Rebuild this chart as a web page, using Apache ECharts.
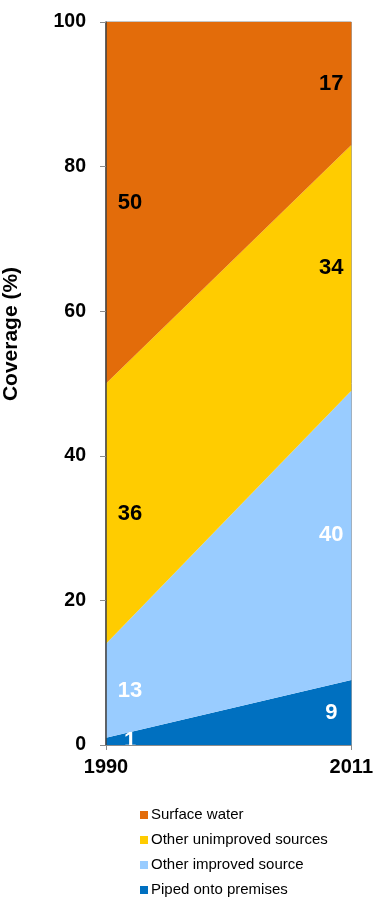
<!DOCTYPE html>
<html>
<head>
<meta charset="utf-8">
<script src="https://cdn.jsdelivr.net/npm/echarts@6/dist/echarts.min.js"></script>
<style>
  html, body { margin: 0; padding: 0; background: #fff; }
  #chart { width: 376px; height: 897px; }
</style>
</head>
<body>
<div id="chart"></div>
<script>
// Drinking-water coverage by source, 1990 vs 2011 (stacked, %)
const years = ['1990', '2011'];
const seriesNames = ['Piped onto premises', 'Other improved source', 'Other unimproved sources', 'Surface water'];
const piped = [1, 9];
const otherImproved = [13, 40];
const otherUnimproved = [36, 34];
const surfaceWater = [50, 17];
const yTicks = [0, 20, 40, 60, 80, 100];

const values = [piped, otherImproved, otherUnimproved, surfaceWater];
const colors = ['#0070C0', '#99CCFF', '#FFCC00', '#E36C0A'];
const labelColors = ['#ffffff', '#ffffff', '#000000', '#000000'];

const font = 'Liberation Sans, Arial, sans-serif';

// stacked areas
const areaSeries = values.map((vals, i) => ({
  name: seriesNames[i],
  type: 'line',
  stack: 'coverage',
  data: vals,
  symbol: 'none',
  lineStyle: { width: 0 },
  areaStyle: { color: colors[i], opacity: 1 },
  itemStyle: { color: colors[i] },
  z: 2
}));

// value labels placed at the middle of each band
const labelSeries = values.map((vals, i) => ({
  type: 'scatter',
  symbolSize: 0,
  silent: true,
  itemStyle: { opacity: 1 },
  z: 5,
  data: vals.map((v, j) => {
    let base = 0;
    for (let k = 0; k < i; k++) base += values[k][j];
    return {
      value: [years[j], base + v / 2],
      label: {
        show: true,
        formatter: String(v),
        position: 'inside',
        offset: j === 0 ? [24, 0] : [-20, 0],
        color: labelColors[i],
        opacity: 1,
        textBorderWidth: 0,
        fontFamily: font,
        fontWeight: 'bold',
        fontSize: 22
      }
    };
  })
}));

const chart = echarts.init(document.getElementById('chart'), null, { renderer: 'canvas' });
chart.setOption({
  animation: false,
  backgroundColor: '#ffffff',
  grid: {
    left: 106, right: 24, top: 22, bottom: 152,
    show: true, borderColor: '#8c8c8c', borderWidth: 1, backgroundColor: 'transparent'
  },
  legend: {
    data: seriesNames.slice().reverse(),
    orient: 'vertical',
    left: 135,
    top: 802,
    height: 120,
    icon: 'rect',
    itemWidth: 8,
    itemHeight: 8,
    itemGap: 9,
    selectedMode: false,
    textStyle: { fontFamily: font, fontSize: 15, color: '#000', padding: [0, 0, 0, -2], lineHeight: 16 }
  },
  xAxis: {
    type: 'category',
    data: years,
    boundaryGap: false,
    axisLine: { show: true, lineStyle: { color: '#8c8c8c', width: 1 } },
    axisTick: { show: true, length: 5, inside: false, lineStyle: { color: '#8c8c8c' } },
    axisLabel: { margin: 12, color: '#000', fontFamily: font, fontWeight: 'bold', fontSize: 20 },
    splitLine: { show: false },
    z: 10
  },
  yAxis: {
    type: 'value',
    min: yTicks[0],
    max: yTicks[yTicks.length - 1],
    interval: yTicks[1] - yTicks[0],
    axisLine: { show: true, lineStyle: { color: '#404040', width: 1.5 } },
    axisTick: { show: true, length: 6, inside: false, lineStyle: { color: '#8c8c8c' } },
    axisLabel: { margin: 20, color: '#000', fontFamily: font, fontWeight: 'bold', fontSize: 19.5 },
    splitLine: { show: false },
    z: 10
  },
  graphic: [{
    type: 'text',
    x: 1,
    y: 334,
    rotation: Math.PI / 2,
    style: {
      text: 'Coverage (%)',
      font: 'bold 21px ' + font,
      fill: '#000',
      align: 'center',
      verticalAlign: 'top'
    }
  }],
  series: areaSeries.concat(labelSeries)
});
</script>
</body>
</html>
